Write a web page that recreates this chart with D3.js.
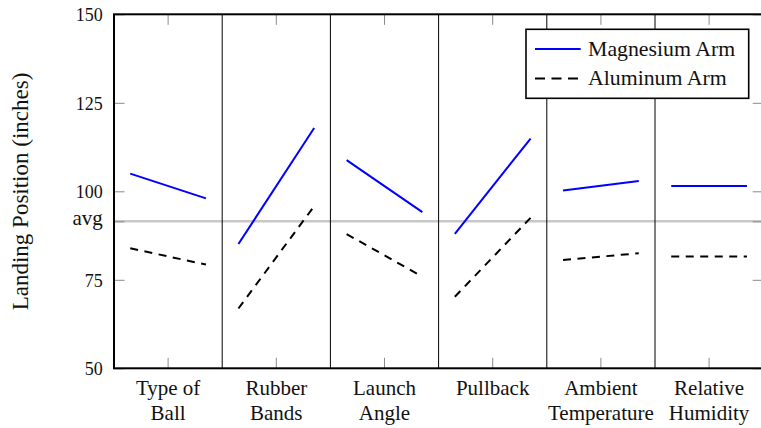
<!DOCTYPE html>
<html>
<head>
<meta charset="utf-8">
<script src="https://cdn.jsdelivr.net/npm/d3@7"></script>
<style>
  html, body { margin: 0; padding: 0; background: #fff; }
  svg { display: block; }
  text { font-family: "Liberation Serif", "Times New Roman", serif; fill: #111; }
</style>
</head>
<body>
<svg id="chart" width="761" height="428"></svg>
<script>
// Factors tested, with the two-line labels used under each panel
const categories = ["Type of Ball", "Rubber Bands", "Launch Angle", "Pullback", "Ambient Temperature", "Relative Humidity"];
const categoryLines = [["Type of", "Ball"], ["Rubber", "Bands"], ["Launch", "Angle"], ["Pullback"], ["Ambient", "Temperature"], ["Relative", "Humidity"]];

// Landing position (inches) at the low and high level of each factor
const magnesiumLow  = [105.0, 85.1, 108.8, 88.0, 100.2, 101.5];
const magnesiumHigh = [98.0, 117.9, 94.1, 114.9, 102.9, 101.5];
const aluminumLow   = [83.9, 66.9, 87.9, 70.2, 80.6, 81.6];
const aluminumHigh  = [79.3, 95.8, 75.9, 92.5, 82.5, 81.6];

const yTicks = [50, 75, 100, 125, 150];
const yDomain = [50, 150];

const series = [
  { name: "Magnesium Arm", low: magnesiumLow, high: magnesiumHigh, color: "#0000ff", dash: null },
  { name: "Aluminum Arm",  low: aluminumLow,  high: aluminumHigh,  color: "#000",    dash: "8,6.5" }
];

// grand mean of every measurement, marked as "avg"
const avg = d3.mean([...magnesiumLow, ...magnesiumHigh, ...aluminumLow, ...aluminumHigh]);

const svg = d3.select("#chart");
const plotL = 114, plotR = 763.2, plotT = 14.3, plotB = 368.3;

const x = d3.scaleBand().domain(categories).range([plotL, plotR]).padding(0);
const y = d3.scaleLinear().domain(yDomain).range([plotB, plotT]);
const bw = x.bandwidth();
const lowX = c => x(c) + bw * 0.15;
const highX = c => x(c) + bw * 0.85;

// average reference line
svg.append("line")
  .attr("x1", plotL).attr("x2", plotR)
  .attr("y1", y(avg)).attr("y2", y(avg))
  .attr("stroke", "#c8c8c8").attr("stroke-width", 2.5);

// panel separators
svg.append("g").selectAll("line")
  .data(categories.slice(1))
  .join("line")
  .attr("x1", d => x(d)).attr("x2", d => x(d))
  .attr("y1", plotT).attr("y2", plotB)
  .attr("stroke", "#000").attr("stroke-width", 1);

// y axis (left), ticks pointing inward
const yAxisVals = [...yTicks, avg];
const yAxis = d3.axisLeft(y)
  .tickValues(yAxisVals)
  .tickSizeInner(-10.5).tickSizeOuter(0).tickPadding(11.3)
  .tickFormat(d => d === avg ? "avg" : d3.format("d")(d));
const gy = svg.append("g").attr("transform", `translate(${plotL},0)`).call(yAxis);
gy.select(".domain").remove();
gy.selectAll(".tick line").attr("stroke", "#8a8a8a").attr("stroke-width", 1);
gy.selectAll(".tick text")
  .attr("dy", null)
  .attr("y", d => d === avg ? 3.6 : 6.2)
  .style("font-size", d => d === avg ? "21px" : "18px")
  .style("font-family", '"Liberation Serif", serif')
  .attr("fill", "#111");

// y ticks on the right border
const yAxisR = d3.axisRight(y).tickValues(yAxisVals).tickSizeInner(-10.5).tickSizeOuter(0).tickFormat("");
const gyr = svg.append("g").attr("transform", `translate(${plotR},0)`).call(yAxisR);
gyr.select(".domain").remove();
gyr.selectAll(".tick line").attr("stroke", "#8a8a8a").attr("stroke-width", 1);

// category ticks at bottom and top
const xCenters = categories.map(c => x(c) + bw / 2);
svg.append("g").selectAll("line").data(xCenters).join("line")
  .attr("x1", d => d).attr("x2", d => d)
  .attr("y1", plotB).attr("y2", plotB - 10.5)
  .attr("stroke", "#8a8a8a").attr("stroke-width", 1);
svg.append("g").selectAll("line").data(xCenters).join("line")
  .attr("x1", d => d).attr("x2", d => d)
  .attr("y1", plotT).attr("y2", plotT + 10.5)
  .attr("stroke", "#8a8a8a").attr("stroke-width", 1);

// category labels
const xl = svg.append("g").selectAll("text")
  .data(categories)
  .join("text")
  .attr("text-anchor", "middle")
  .style("font-size", "21px");
xl.each(function(c, i) {
  const t = d3.select(this);
  categoryLines[i].forEach((ln, j) => {
    t.append("tspan")
      .attr("x", x(c) + bw / 2)
      .attr("y", 395 + j * 25)
      .text(ln);
  });
});

// plot frame
svg.append("rect")
  .attr("x", plotL).attr("y", plotT)
  .attr("width", plotR - plotL).attr("height", plotB - plotT)
  .attr("fill", "none").attr("stroke", "#000").attr("stroke-width", 2);

// factor effect lines
series.forEach(s => {
  svg.append("g").selectAll("line")
    .data(categories)
    .join("line")
    .attr("x1", c => lowX(c)).attr("x2", c => highX(c))
    .attr("y1", (c, i) => y(s.low[i])).attr("y2", (c, i) => y(s.high[i]))
    .attr("stroke", s.color).attr("stroke-width", 2)
    .attr("stroke-dasharray", s.dash);
});

// y axis title
svg.append("text")
  .attr("transform", "translate(27.5,191.5) rotate(-90)")
  .attr("text-anchor", "middle")
  .style("font-size", "23px")
  .text("Landing Position (inches)");

// legend
const lg = svg.append("g");
lg.append("rect")
  .attr("x", 526).attr("y", 29.3).attr("width", 222.7).attr("height", 69)
  .attr("fill", "#fff").attr("stroke", "#000").attr("stroke-width", 1.6);
series.forEach((s, i) => {
  const ly = 49 + i * 29.5;
  lg.append("line")
    .attr("x1", 535).attr("x2", 580.7).attr("y1", ly).attr("y2", ly)
    .attr("stroke", s.color).attr("stroke-width", 2)
    .attr("stroke-dasharray", s.dash ? "10,6.5" : null);
  lg.append("text")
    .attr("x", 588).attr("y", 55.7 + i * 29.5)
    .style("font-size", "21.8px")
    .text(s.name);
});
</script>
</body>
</html>
